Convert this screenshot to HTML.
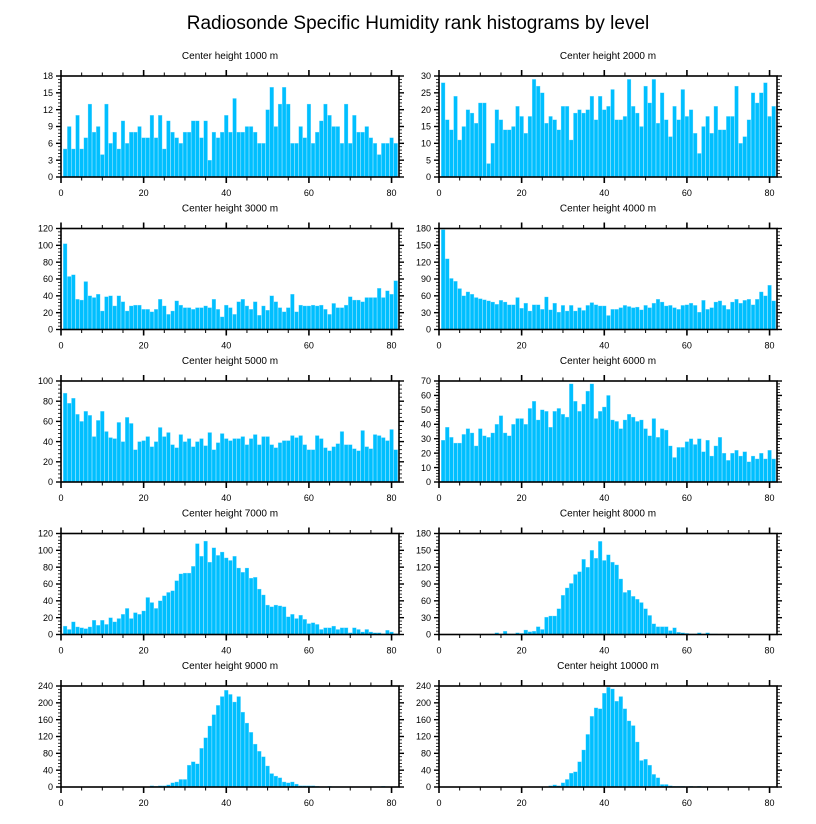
<!DOCTYPE html>
<html><head><meta charset="utf-8"><style>
html,body{margin:0;padding:0;background:#fff;}
svg{display:block;font-family:"Liberation Sans",sans-serif;}
</style></head><body>
<svg id="chart" width="816" height="824" viewBox="0 0 816 824" xmlns="http://www.w3.org/2000/svg">
<text x="418" y="29" font-size="19" text-anchor="middle" fill="#000">Radiosonde Specific Humidity rank histograms by level</text>
</svg>
<script>
const titles = ["Center height 1000 m","Center height 2000 m","Center height 3000 m","Center height 4000 m","Center height 5000 m","Center height 6000 m","Center height 7000 m","Center height 8000 m","Center height 9000 m","Center height 10000 m"];
const yMaxes = [18,30,120,180,100,70,120,180,240,240];
const ySteps = [3,5,20,30,20,10,20,30,40,40];
const xTicks = [0,20,40,60,80];
const p1 = [5,9,5,11,5,7,13,8,9,4,13,6,8,5,10,6,8,8,9,7,7,11,7,11,5,10,8,7,6,8,8,10,10,7,10,3,8,7,8,11,8,14,8,8,9,9,8,6,6,12,16,9,13,16,13,6,6,9,7,13,6,8,10,13,11,9,9,6,13,6,11,8,8,9,7,6,4,6,6,7,6];
const p2 = [28,17,14,24,11,15,20,19,16,22,22,4,10,20,17,14,14,15,21,18,13,18,29,27,25,16,18,17,14,21,21,11,19,20,19,20,24,17,24,20,21,26,17,17,18,29,21,19,15,27,22,29,16,25,17,12,21,17,26,18,20,13,7,15,18,13,21,14,14,18,18,27,10,12,17,25,22,25,28,18,21];
const p3 = [102,63,65,36,35,57,40,38,42,22,39,40,28,40,33,22,28,29,29,24,24,21,24,36,28,18,22,34,29,26,26,24,26,26,28,26,36,24,15,29,26,18,33,36,28,24,33,17,28,23,40,33,26,21,26,42,21,29,28,28,29,28,29,24,18,31,26,26,29,39,35,35,33,38,38,38,49,38,46,42,58];
const p4 = [178,126,91,86,73,60,67,63,57,55,53,51,49,45,52,49,44,44,57,38,47,33,44,44,36,58,35,47,31,43,33,43,33,39,34,43,48,44,42,42,25,36,36,39,43,41,39,40,35,43,39,47,54,49,42,43,39,36,43,44,47,43,31,52,36,39,49,51,43,36,49,54,47,52,54,44,54,67,60,79,51];
const p5 = [88,78,83,67,60,70,66,45,61,70,50,44,43,59,40,64,58,32,40,41,45,35,40,54,45,49,37,34,47,40,43,35,40,43,36,49,32,39,48,43,41,43,43,45,37,43,47,37,45,45,37,34,39,41,41,46,44,46,37,32,32,46,43,34,31,35,38,50,37,37,33,31,51,35,33,47,46,44,41,52,32];
const p6 = [29,38,31,27,27,33,37,34,25,37,32,31,34,40,46,34,32,40,44,44,40,51,56,43,50,49,38,49,51,47,45,68,56,49,54,63,68,44,49,52,60,43,42,37,43,47,45,42,43,37,32,44,31,37,36,25,17,24,24,28,30,26,30,21,29,18,25,31,20,15,20,22,18,21,14,18,16,20,16,22,16];
const p7 = [10,6,15,9,8,7,9,17,11,17,12,20,15,19,24,31,19,26,24,28,44,38,31,40,46,50,52,64,72,73,73,81,108,93,111,86,103,94,98,91,88,93,79,74,79,67,68,54,47,35,33,35,34,33,21,24,19,23,18,13,14,12,6,8,8,10,6,8,8,2,8,6,3,6,3,2,2,1,5,3,1];
const p8 = [0,0,0,0,0,0,0,0,0,0,0,0,0,3,1,6,1,1,3,2,8,5,6,14,9,31,33,33,46,70,83,91,107,112,134,120,150,136,166,132,142,129,124,99,75,79,68,63,57,46,34,19,14,14,14,7,12,4,3,2,1,1,3,1,3,1,1,0,0,0,0,0,0,0,0,0,0,0,0,0,0];
const p9 = [0,0,0,0,0,0,0,0,0,0,0,0,0,0,0,0,0,0,0,0,0,3,2,3,3,5,10,12,18,18,52,60,55,92,117,145,172,194,215,230,220,202,215,178,152,130,102,85,72,50,32,26,22,12,10,12,7,3,3,3,3,2,1,1,2,1,1,1,1,1,1,1,1,1,1,1,1,2,1,0,0];
const p10 = [0,0,0,0,0,0,0,0,0,0,0,0,0,0,0,0,0,0,0,0,0,0,0,0,0,0,3,5,3,10,18,33,36,60,88,125,168,188,186,223,237,233,204,215,186,157,146,107,63,66,52,30,22,6,6,3,2,2,2,1,2,1,2,1,1,1,0,0,0,1,0,0,0,1,0,0,0,0,0,0,0];
const series = [p1,p2,p3,p4,p5,p6,p7,p8,p9,p10];

const NS = "http://www.w3.org/2000/svg";
const svg = document.getElementById("chart");
const colLeft = [61, 439];
const rowTop = [76, 228.5, 381, 533.5, 686];
const W = 338, H = 101, XMAX = 81.8;

function mk(tag, attrs, parent){
  const e = document.createElementNS(NS, tag);
  for (const k in attrs) e.setAttribute(k, attrs[k]);
  parent.appendChild(e);
  return e;
}

series.forEach((vals, p) => {
  const col = p % 2, row = Math.floor(p / 2);
  const L = colLeft[col], T = rowTop[row], B = T + H, R = L + W;
  const ymax = yMaxes[p], ystep = ySteps[p];
  const xs = v => L + v / XMAX * W;
  const ys = v => B - v / ymax * H;
  const g = mk("g", {}, svg);
  
  

  const t = mk("text", {x: L + W/2, y: T - 17, "font-size": 10, "text-anchor": "middle", fill: "#000"}, g);
  t.textContent = titles[p];
  
  

  vals.forEach((v, i) => {
    const c = i + 1;
    if (v <= 0) return;
    const x0 = xs(c - 0.46), x1 = xs(c + 0.46);
    const r = mk("rect", {x: x0, y: ys(v), width: x1 - x0, height: B - ys(v), fill: "#00BFFF", stroke: "#8fe0ff", "stroke-width": 0.3}, g);
    
    
  });

  const frame = mk("rect", {x: L, y: T, width: W, height: H, fill: "none", stroke: "#000", "stroke-width": 1.6}, g);
  
  

  // x ticks
  for (let v = 0; v <= 80; v += 5) {
    const major = v % 20 === 0;
    const len = major ? 6 : 3.5;
    const x = xs(v);
    mk("line", {x1: x, y1: B, x2: x, y2: B + len, stroke: "#000", "stroke-width": major ? 1.6 : 1}, g);
    mk("line", {x1: x, y1: T, x2: x, y2: T - len, stroke: "#000", "stroke-width": major ? 1.6 : 1}, g);
  }
  xTicks.forEach(v => {
    const tl = mk("text", {x: xs(v), y: B + 19, "font-size": 9, "text-anchor": "middle", fill: "#000"}, g);
    tl.textContent = v;
    
    
  });
  // y ticks
  const minor = ystep / 5;
  for (let k = 0; k * minor <= ymax + 1e-9; k++) {
    const v = k * minor;
    const major = k % 5 === 0;
    const len = major ? 5 : 3;
    const y = ys(v);
    mk("line", {x1: L, y1: y, x2: L - len, y2: y, stroke: "#000", "stroke-width": major ? 1.4 : 0.8}, g);
    mk("line", {x1: R, y1: y, x2: R + len, y2: y, stroke: "#000", "stroke-width": major ? 1.4 : 0.8}, g);
  }
  for (let v = 0; v <= ymax + 1e-9; v += ystep) {
    const yl = mk("text", {x: L - 8, y: ys(v) + 3.2, "font-size": 9, "text-anchor": "end", fill: "#000"}, g);
    yl.textContent = v;
    
    
  }
});
</script>
</body></html>
